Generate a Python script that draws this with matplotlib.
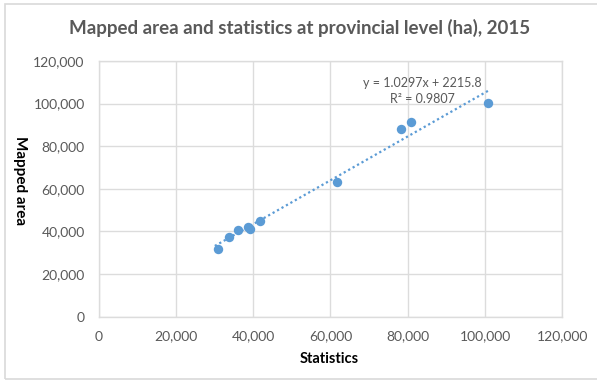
import numpy as np
import matplotlib.pyplot as plt
from matplotlib.ticker import FuncFormatter
from matplotlib.patches import Rectangle

# provincial values (ha): statistics vs mapped area
statistics = [30800, 33800, 36050, 38800, 39300, 41700, 61700, 78200, 80800, 100900]
mapped_area = [31950, 37600, 40700, 42000, 41100, 44800, 63300, 88200, 91500, 100200]

slope = 1.0297
intercept = 2215.8
r_squared = 0.9807

x_ticks = [0, 20000, 40000, 60000, 80000, 100000, 120000]
y_ticks = [0, 20000, 40000, 60000, 80000, 100000, 120000]

blue = '#5B9BD5'
grey_text = '#595959'
grid_col = '#DCDCDC'

plt.rcParams['font.family'] = ['Lato', 'DejaVu Sans']

fig = plt.figure(figsize=(5.97, 3.81), dpi=100)
W, H = 597, 381
ax = fig.add_axes([98.5 / W, 1 - 316.7 / H, (562.3 - 98.5) / W, (316.7 - 61) / H])

# chart border
fig.patches.append(Rectangle((5 / W, 2 / H), 1.2, 1 - 6 / H, transform=fig.transFigure,
                             fill=False, edgecolor='#D9D9D9', linewidth=1.2))

ax.set_xlim(0, 120000)
ax.set_ylim(0, 120000)
ax.set_xticks(x_ticks)
ax.set_yticks(y_ticks)
fmt = FuncFormatter(lambda v, p: f'{int(v):,}')
ax.xaxis.set_major_formatter(fmt)
ax.yaxis.set_major_formatter(fmt)
ax.tick_params(length=0, labelsize=10, colors=grey_text, pad=10)
ax.grid(True, color=grid_col, linewidth=1)
ax.set_axisbelow(True)
for s in ax.spines.values():
    s.set_color(grid_col)
    s.set_linewidth(1)

ax.scatter(statistics, mapped_area, s=46, color=blue, zorder=3, linewidths=0)

# linear trendline over the data range
xs = np.array([min(statistics) - 700, max(statistics)])
ax.plot(xs, slope * xs + intercept, color=blue, linestyle=(0, (1, 1.3)), linewidth=1.6, zorder=2)

ax.text(422 / W, 1 - 83 / H, f'y = {slope}x + {intercept}', transform=fig.transFigure,
        ha='center', va='center', fontsize=9, color=grey_text)
ax.text(422 / W, 1 - 99 / H, f'R² = {r_squared}', transform=fig.transFigure,
        ha='center', va='center', fontsize=9, color=grey_text)

fig.text(300 / W, 1 - 28 / H, 'Mapped area and statistics at provincial level (ha), 2015',
         ha='center', va='center', fontsize=13.5, fontweight='bold', color=grey_text)
fig.text(329 / W, 1 - 359 / H, 'Statistics', ha='center', va='center',
         fontsize=10.5, fontweight='bold', color='black')
fig.text(20 / W, 1 - 181 / H, 'Mapped area', ha='center', va='center', rotation=-90,
         fontsize=11, fontweight='bold', color='black')

fig.savefig('out.png', dpi=100)
